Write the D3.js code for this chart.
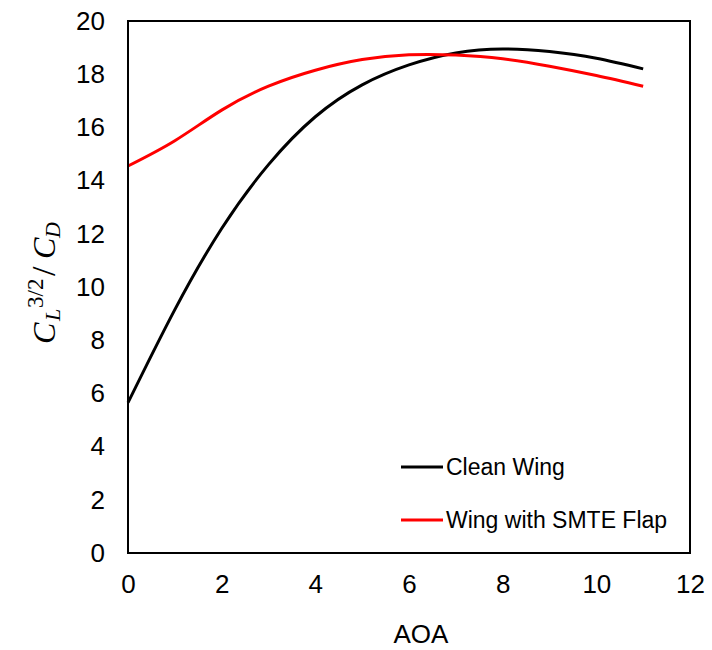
<!DOCTYPE html>
<html lang="en">
<head>
<meta charset="UTF-8">
<title>CL^3/2/CD vs AOA</title>
<style>
  body { margin: 0; background: #fff; }
  text { font-family: "Liberation Sans", Arial, sans-serif; fill: #000; }
</style>
</head>
<body>
<script src="https://cdnjs.cloudflare.com/ajax/libs/d3/7.8.5/d3.min.js"></script>
<script>
// data
var aoa = [0, 1, 2, 3, 4, 5, 6, 7, 8, 9, 10, 11];
var cleanWing = [5.65, 9.15, 12.2, 14.6, 16.4, 17.6, 18.35, 18.8, 18.95, 18.85, 18.6, 18.2];
var smteFlap = [14.55, 15.5, 16.65, 17.55, 18.15, 18.55, 18.73, 18.72, 18.58, 18.3, 17.95, 17.55];
var seriesNames = ['Clean Wing', 'Wing with SMTE Flap'];
var seriesColors = ['#000000', '#ff0000'];
var xTicks = [0, 2, 4, 6, 8, 10, 12];
var yTicks = [0, 2, 4, 6, 8, 10, 12, 14, 16, 18, 20];

var margin = {top: 21, right: 22, bottom: 97, left: 128};
var width = 712 - margin.left - margin.right;
var height = 650 - margin.top - margin.bottom;

var svg = d3.select('body').append('svg')
    .attr('width', 712)
    .attr('height', 650)
    .append('g')
    .attr('transform', `translate(${margin.left}, ${margin.top})`);

var xScale = d3.scaleLinear().domain([0, 12]).range([0, width]);
var yScale = d3.scaleLinear().domain([0, 20]).range([height, 0]);

// axes (no tick marks, only labels)
var xAxis = svg.append('g')
    .attr('transform', `translate(0, ${height})`)
    .call(d3.axisBottom(xScale).tickValues(xTicks).tickSize(0).tickPadding(22));
var yAxis = svg.append('g')
    .call(d3.axisLeft(yScale).tickValues(yTicks).tickSize(0).tickPadding(23));
xAxis.select('.domain').remove();
yAxis.select('.domain').remove();
svg.selectAll('.tick text')
    .style('font-size', '26px')
    .style('font-family', '"Liberation Sans", Arial, sans-serif');

// lines
var line = d3.line()
    .x((d, i) => xScale(aoa[i]))
    .y(d => yScale(d))
    .curve(d3.curveNatural);

[cleanWing, smteFlap].forEach(function(s, i) {
    svg.append('path')
        .datum(s)
        .attr('d', line)
        .attr('fill', 'none')
        .attr('stroke', seriesColors[i])
        .attr('stroke-width', 3);
});

// plot frame
svg.append('rect')
    .attr('width', width)
    .attr('height', height)
    .attr('fill', 'none')
    .attr('stroke', '#000')
    .attr('stroke-width', 2);

// legend
var legend = svg.selectAll('.legend')
    .data(seriesNames)
    .enter().append('g')
    .attr('class', 'legend')
    .attr('transform', (d, i) => `translate(273, ${446 + i * 53})`);

legend.append('line')
    .attr('x1', 0)
    .attr('x2', 42)
    .attr('stroke', (d, i) => seriesColors[i])
    .attr('stroke-width', 3);

legend.append('text')
    .text(d => d)
    .attr('x', 45)
    .attr('y', 8)
    .style('font-size', '23px');

// x axis title
svg.append('text')
    .text('AOA')
    .attr('text-anchor', 'middle')
    .attr('x', 293)
    .attr('y', 622)
    .style('font-size', '26px');

// y axis title: C_L^{3/2} / C_D
var ylab = d3.select('svg').append('g')
    .attr('transform', 'translate(55, 281) rotate(-90)');

var serif = '"Liberation Serif", "Times New Roman", serif';
function piece(t, x, y, size, italic) {
    ylab.append('text')
        .text(t)
        .attr('x', x)
        .attr('y', y)
        .style('font-family', serif)
        .style('font-style', italic ? 'italic' : 'normal')
        .style('font-size', size + 'px');
}
piece('C', -63, 0, 32, true);
piece('L', -40, 5, 22, true);
piece('3/2', -27, -12, 23, false);
piece('/', 5, 0, 34, false);
piece('C', 22, 0, 32, true);
piece('D', 43, 5, 22, true);
</script>
</body>
</html>
